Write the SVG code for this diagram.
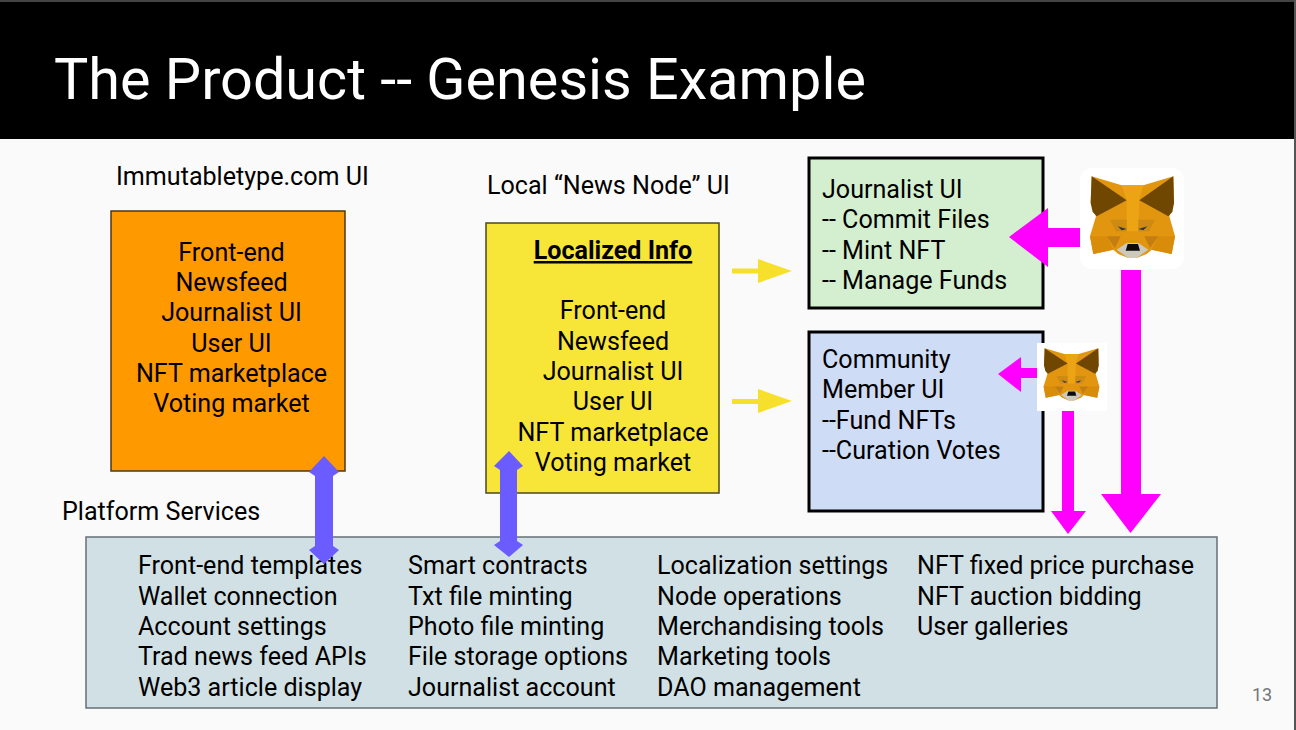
<svg xmlns="http://www.w3.org/2000/svg" width="1296" height="730" viewBox="0 0 1296 730">
<style>
text{font-family:Roboto,"Liberation Sans",sans-serif;fill:#000}
.b{font-size:25.1px}
.m{text-anchor:middle}
.box{stroke-width:1.5}
.pk{fill:#ff00ff}
.bl{fill:#6a5cff}
.ye{fill:#f7e02c}
</style>
<defs>
<g id="fox">
<path fill="#e2950e" d="M35 25L125 52H190L280 25L282 105L268 145L285 205L275 258L215 245L200 258L170 270H145L115 258L100 245L40 258L30 205L48 145L32 105Z"/>
<path fill="#eda414" d="M125 52H190L178 97L175 190H140L140 97Z"/>
<path fill="#d98c0a" d="M30 205L80 205L100 245L40 258Z"/>
<path fill="#d98c0a" d="M285 205L235 205L215 245L275 258Z"/>
<path fill="#6f4700" d="M35 25L140 97L50 145L38 132L32 105Z"/>
<path fill="#6f4700" d="M280 25L178 97L265 145L277 132L282 105Z"/>
<path fill="#cf8a14" d="M90 155H140V190H108Z"/>
<path fill="#cf8a14" d="M225 155H175V190H207Z"/>
<path fill="#c47d12" d="M80 205H122L105 240Z"/>
<path fill="#c47d12" d="M235 205H193L210 240Z"/>
<path fill="#2e3a40" d="M113 175L140 183L125 187Z"/>
<path fill="#2e3a40" d="M202 175L175 183L190 187Z"/>
<path fill="#cdcabc" d="M140 225L110 245L145 270H170L205 245L175 225Z"/>
<path fill="#0d0d0d" d="M143 228H174L180 248H137Z"/>
</g>
</defs>
<rect width="1296" height="730" fill="#fafafa"/>
<rect width="1296" height="139" fill="#000"/>
<rect width="1296" height="2" fill="#444"/>
<rect x="1294" width="2" height="730" fill="#555"/>
<text x="54" y="98.500" font-size="57.550" style="fill:#fff" id="title">The Product -- Genesis Example</text>
<text x="116" y="185" class="b">Immutabletype.com UI</text>
<text x="487" y="194" class="b">Local “News Node” UI</text>
<text x="62" y="520" class="b">Platform Services</text>
<text x="1252" y="701" font-size="18" style="fill:#757575">13</text>

<g id="node-immutable">
<rect x="111" y="211" width="234" height="260" fill="#ff9900" stroke="#4a3a1a" class="box"/>
<g class="b m">
<text x="231.500" y="261">Front-end</text>
<text x="231.500" y="291">Newsfeed</text>
<text x="231.500" y="321">Journalist UI</text>
<text x="231.500" y="352">User UI</text>
<text x="231.500" y="382">NFT marketplace</text>
<text x="231.500" y="412">Voting market</text>
</g>
</g>
<g id="node-local">
<rect x="486" y="223" width="233" height="270" fill="#f7e637" stroke="#4a4a1a" class="box"/>
<text x="613" y="259" class="b m" font-weight="700" text-decoration="underline">Localized Info</text>
<g class="b m">
<text x="613" y="319">Front-end</text>
<text x="613" y="350">Newsfeed</text>
<text x="613" y="380">Journalist UI</text>
<text x="613" y="410">User UI</text>
<text x="613" y="441">NFT marketplace</text>
<text x="613" y="471">Voting market</text>
</g>
</g>
<g id="node-journalist">
<rect x="809" y="158" width="234" height="150" fill="#d4efd0" stroke="#000" stroke-width="3"/>
<g class="b">
<text x="822" y="198">Journalist UI</text>
<text x="822" y="228">-- Commit Files</text>
<text x="822" y="259">-- Mint NFT</text>
<text x="822" y="289">-- Manage Funds</text>
</g>
</g>
<g id="node-community">
<rect x="809" y="332" width="234" height="179" fill="#cfdcf5" stroke="#000" stroke-width="3"/>
<g class="b">
<text x="822" y="368">Community</text>
<text x="822" y="398">Member UI</text>
<text x="822" y="429">--Fund NFTs</text>
<text x="822" y="459">--Curation Votes</text>
</g>
</g>
<g id="node-platform">
<rect x="86" y="537" width="1131" height="171" fill="#d0e0e4" stroke="#667076" stroke-width="1.500"/>
<g class="b">
<text x="138" y="574">Front-end templates</text>
<text x="138" y="605">Wallet connection</text>
<text x="138" y="635">Account settings</text>
<text x="138" y="665">Trad news feed APIs</text>
<text x="138" y="696">Web3 article display</text>
<text x="408" y="574">Smart contracts</text>
<text x="408" y="605">Txt file minting</text>
<text x="408" y="635">Photo file minting</text>
<text x="408" y="665">File storage options</text>
<text x="408" y="696">Journalist account</text>
<text x="657" y="574">Localization settings</text>
<text x="657" y="605">Node operations</text>
<text x="657" y="635">Merchandising tools</text>
<text x="657" y="665">Marketing tools</text>
<text x="657" y="696">DAO management</text>
<text x="917" y="574">NFT fixed price purchase</text>
<text x="917" y="605">NFT auction bidding</text>
<text x="917" y="635">User galleries</text>
</g>
</g>
<g id="node-fox-large">
<rect x="1080" y="168" width="104" height="101" rx="12" fill="#fff"/>
<use href="#fox" transform="translate(1080 168) scale(.3333)"/>
</g>
<g id="node-fox-small">
<rect x="1037" y="343" width="70" height="68" fill="#fff"/>
<use href="#fox" transform="translate(1037 343) scale(.2188 .2125)"/>
</g>
<g id="connectors">
<path class="pk" d="M1080 228V247H1048V267L1009 237L1048 208V228Z"/>
<path class="pk" d="M1121 270H1141V494H1161L1130.500 533L1101 494H1121Z"/>
<path class="pk" d="M1037 368V378H1021V392L998 374L1021 357V368Z"/>
<path class="pk" d="M1062 411H1074V511H1086L1068 534L1051 511H1062Z"/>
<path class="bl" d="M324 456L339 472L333 476V546L339 550L324 564L309 550L315 546V476L309 472Z"/>
<path class="bl" d="M509 451L523 466L517 470V541L523 545L509 557L494 545L500 541V470L494 466Z"/>
<path class="ye" d="M732 268.500H758V259L792 271L758 283V273.500H732Z"/>
<path class="ye" d="M732 399H758V389L792 401L758 413V404H732Z"/>
</g>
</svg>
